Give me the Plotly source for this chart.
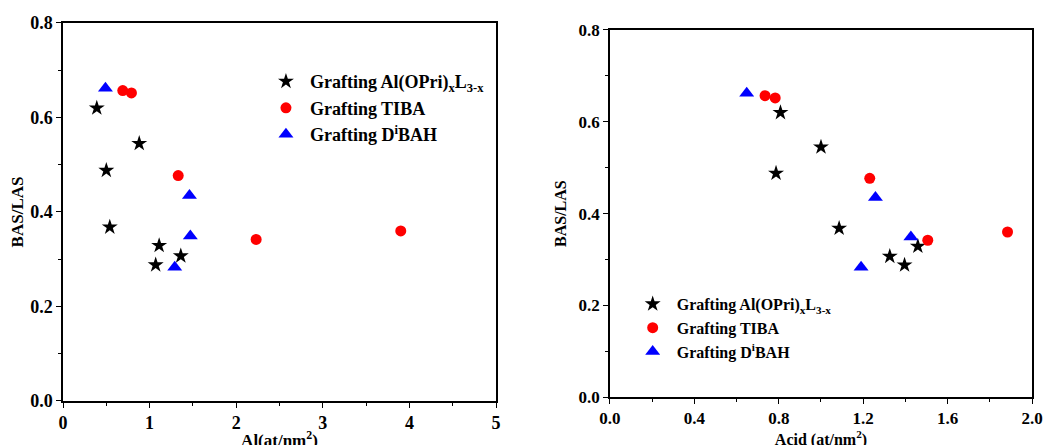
import plotly.graph_objects as go

# left panel: Al loading (at/nm2)
al_star_x = [0.39, 0.88, 0.50, 0.54, 1.11, 1.36, 1.07]
al_star_y = [0.620, 0.545, 0.488, 0.368, 0.329, 0.307, 0.288]
al_circ_x = [0.69, 0.79, 1.33, 2.23, 3.90]
al_circ_y = [0.657, 0.652, 0.477, 0.342, 0.360]
al_tri_x = [0.49, 1.46, 1.47, 1.29]
al_tri_y = [0.662, 0.435, 0.349, 0.283]

# right panel: acid density (at/nm2)
ac_star_x = [0.808, 1.00, 0.787, 1.086, 1.459, 1.326, 1.396]
ac_star_y = [0.620, 0.545, 0.488, 0.368, 0.329, 0.307, 0.288]
ac_circ_x = [0.735, 0.783, 1.231, 1.506, 1.884]
ac_circ_y = [0.657, 0.652, 0.477, 0.342, 0.360]
ac_tri_x = [0.648, 1.258, 1.426, 1.19]
ac_tri_y = [0.662, 0.435, 0.349, 0.283]

names = ["Grafting Al(OPri)<sub>x</sub>L<sub>3-x</sub>",
         "Grafting TIBA",
         "Grafting D<sup>i</sup>BAH"]

FONT = "Liberation Serif"

fig = go.Figure()

series = [
    (al_star_x, al_star_y, ac_star_x, ac_star_y, "star", "black", 12),
    (al_circ_x, al_circ_y, ac_circ_x, ac_circ_y, "circle", "red", 11),
    (al_tri_x, al_tri_y, ac_tri_x, ac_tri_y, "triangle-up", "blue", 13),
]

for i, (lx, ly, rx, ry, sym, col, sz) in enumerate(series):
    fig.add_trace(go.Scatter(x=lx, y=ly, mode="markers", name=names[i],
                             marker=dict(symbol=sym, color=col, size=sz, line_width=0),
                             xaxis="x", yaxis="y", legend="legend"))
    fig.add_trace(go.Scatter(x=rx, y=ry, mode="markers", name=names[i],
                             marker=dict(symbol=sym, color=col, size=sz, line_width=0),
                             xaxis="x2", yaxis="y2", legend="legend2"))


def axis_style(size):
    return dict(
        showline=True, linecolor="black", linewidth=1.5, mirror=True,
        ticks="outside", ticklen=5, tickwidth=1.2, tickcolor="black",
        showgrid=False, zeroline=False, automargin=False,
        tickfont=dict(family=FONT, size=size, color="black", weight="bold"),
        minor=dict(ticks="outside", ticklen=3, tickwidth=1, tickcolor="black", showgrid=False),
    )


# page body has an 8px margin, domains are shifted to compensate
fig.update_layout(
    width=1052, height=445,
    margin=dict(l=0, r=0, t=0, b=0),
    plot_bgcolor="white", paper_bgcolor="white",
    font=dict(family=FONT, color="black"),
    xaxis=dict(domain=[0.0523, 0.4639], range=[0, 5], dtick=1,
               minor_dtick=0.5, anchor="y",
               title=dict(text="<b>Al(at/nm<sup>2</sup>)</b>", standoff=2,
                          font=dict(family=FONT, size=17)),
               **axis_style(18)),
    yaxis=dict(domain=[0.1169, 0.9663], range=[0, 0.8], dtick=0.2,
               tickformat=".1f", minor_dtick=0.1, anchor="x",
               title=dict(text="<b>BAS/LAS</b>", standoff=8,
                          font=dict(family=FONT, size=17)),
               **axis_style(18)),
    xaxis2=dict(domain=[0.5722, 0.9734], range=[0, 2], dtick=0.4,
                tickformat=".1f", minor_dtick=0.2, anchor="y2",
                title=dict(text="<b>Acid (at/nm<sup>2</sup>)</b>", standoff=2,
                           font=dict(family=FONT, size=16)),
                **axis_style(17)),
    yaxis2=dict(domain=[0.1252, 0.9506], range=[0, 0.8], dtick=0.2,
                tickformat=".1f", minor_dtick=0.1, anchor="x2",
                title=dict(text="<b>BAS/LAS</b>", standoff=8,
                           font=dict(family=FONT, size=16)),
                **axis_style(17)),
    legend=dict(x=0.2414, y=0.876, xanchor="left", yanchor="top",
                bgcolor="rgba(0,0,0,0)", tracegroupgap=0, itemwidth=38,
                font=dict(family=FONT, size=18, color="black", weight="bold")),
    legend2=dict(x=0.590, y=0.373, xanchor="left", yanchor="top",
                 bgcolor="rgba(0,0,0,0)", tracegroupgap=0, itemwidth=38,
                 font=dict(family=FONT, size=16, color="black", weight="bold")),
)

fig.write_html("out.html")
